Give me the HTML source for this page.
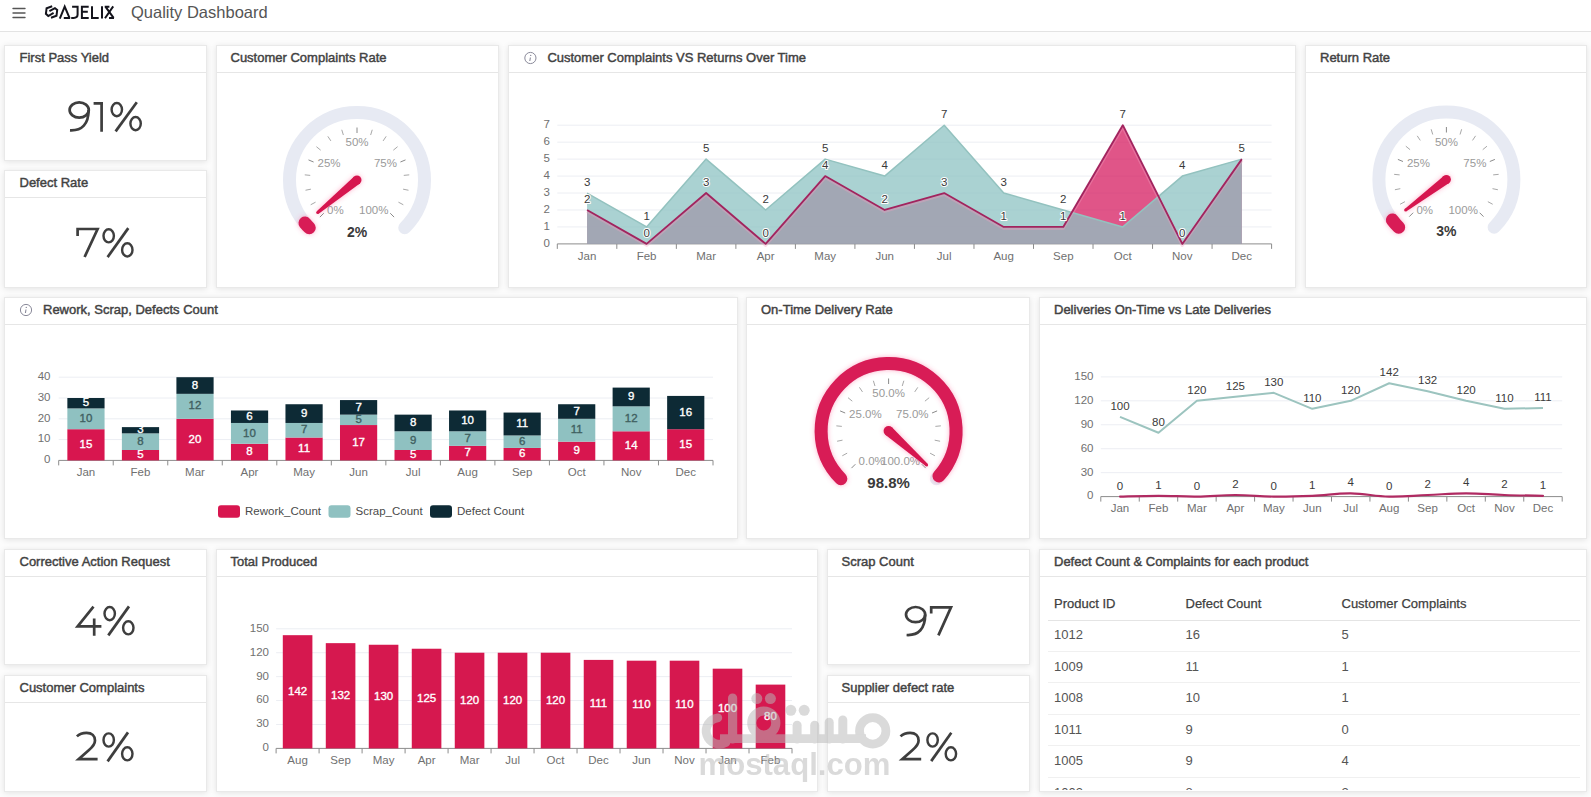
<!DOCTYPE html>
<html><head><meta charset="utf-8"><style>
html,body{margin:0;padding:0;width:1591px;height:797px;overflow:hidden;background:#fcfcfc;font-family:"Liberation Sans", sans-serif}
.hdr{position:absolute;left:0;top:0;width:1591px;height:31px;background:#fff;border-bottom:1px solid #e3e3e3}
.card{position:absolute;box-sizing:border-box;background:#fff;border:1px solid #e9e9e9;box-shadow:0 1px 6px rgba(0,0,0,0.1)}
.hsep{position:absolute;height:1px;background:#e6e6e6}
.ttl{position:absolute;font-size:13px;line-height:15px;color:#404040;white-space:nowrap;-webkit-text-stroke:0.45px #454545}
svg text{font-family:"Liberation Sans", sans-serif}
</style></head><body>
<div class="hdr"></div>
<div class="card" style="left:4px;top:45px;width:203px;height:116px"></div><div class="hsep" style="left:5px;top:72px;width:201px"></div><div class="ttl" style="left:19.5px;top:49.5px">First Pass Yield</div><div class="card" style="left:4px;top:170px;width:203px;height:118px"></div><div class="hsep" style="left:5px;top:197px;width:201px"></div><div class="ttl" style="left:19.5px;top:174.5px">Defect Rate</div><div class="card" style="left:216px;top:45px;width:282.5px;height:243px"></div><div class="hsep" style="left:217px;top:72px;width:280.5px"></div><div class="ttl" style="left:230.5px;top:49.5px">Customer Complaints Rate</div><div class="card" style="left:508px;top:45px;width:788px;height:243px"></div><div class="hsep" style="left:509px;top:72px;width:786px"></div><div class="ttl" style="left:547.4px;top:49.5px">Customer Complaints VS Returns Over Time</div><div class="card" style="left:1305px;top:45px;width:282px;height:243px"></div><div class="hsep" style="left:1306px;top:72px;width:280px"></div><div class="ttl" style="left:1320px;top:49.5px">Return Rate</div><div class="card" style="left:4px;top:297px;width:734px;height:242px"></div><div class="hsep" style="left:5px;top:324px;width:732px"></div><div class="ttl" style="left:43px;top:301.5px">Rework, Scrap, Defects Count</div><div class="card" style="left:746px;top:297px;width:284px;height:242px"></div><div class="hsep" style="left:747px;top:324px;width:282px"></div><div class="ttl" style="left:761px;top:301.5px">On-Time Delivery Rate</div><div class="card" style="left:1039px;top:297px;width:548px;height:242px"></div><div class="hsep" style="left:1040px;top:324px;width:546px"></div><div class="ttl" style="left:1054px;top:301.5px">Deliveries On-Time vs Late Deliveries</div><div class="card" style="left:4px;top:549px;width:203px;height:116px"></div><div class="hsep" style="left:5px;top:576px;width:201px"></div><div class="ttl" style="left:19.5px;top:553.5px">Corrective Action Request</div><div class="card" style="left:4px;top:675px;width:203px;height:117px"></div><div class="hsep" style="left:5px;top:702px;width:201px"></div><div class="ttl" style="left:19.5px;top:679.5px">Customer Complaints</div><div class="card" style="left:216px;top:549px;width:602px;height:243px"></div><div class="hsep" style="left:217px;top:576px;width:600px"></div><div class="ttl" style="left:230.5px;top:553.5px">Total Produced</div><div class="card" style="left:827px;top:549px;width:203px;height:116px"></div><div class="hsep" style="left:828px;top:576px;width:201px"></div><div class="ttl" style="left:841.5px;top:553.5px">Scrap Count</div><div class="card" style="left:827px;top:675px;width:203px;height:117px"></div><div class="hsep" style="left:828px;top:702px;width:201px"></div><div class="ttl" style="left:841.5px;top:679.5px">Supplier defect rate</div><div class="card" style="left:1039px;top:549px;width:548px;height:243px"></div><div class="hsep" style="left:1040px;top:576px;width:546px"></div><div class="ttl" style="left:1054px;top:553.5px">Defect Count &amp; Complaints for each product</div><div style="position:absolute;left:131px;top:3px;font-size:16.5px;line-height:19px;color:#555;white-space:nowrap">Quality Dashboard</div><div style="position:absolute;left:0;top:0;width:1591px;height:790px;overflow:hidden"><div style="position:absolute;left:1054px;top:596.2px;font-size:13px;line-height:15px;color:#404040;white-space:nowrap;-webkit-text-stroke:0.25px #404040;">Product ID</div><div style="position:absolute;left:1185.5px;top:596.2px;font-size:13px;line-height:15px;color:#404040;white-space:nowrap;-webkit-text-stroke:0.25px #404040;">Defect Count</div><div style="position:absolute;left:1341.5px;top:596.2px;font-size:13px;line-height:15px;color:#404040;white-space:nowrap;-webkit-text-stroke:0.25px #404040;">Customer Complaints</div><div class="hsep" style="left:1048px;top:620px;width:532px;background:#e4e4e4"></div><div style="position:absolute;left:1054px;top:627.2px;font-size:13px;line-height:15px;color:#555;white-space:nowrap;">1012</div><div style="position:absolute;left:1185.5px;top:627.2px;font-size:13px;line-height:15px;color:#555;white-space:nowrap;">16</div><div style="position:absolute;left:1341.5px;top:627.2px;font-size:13px;line-height:15px;color:#555;white-space:nowrap;">5</div><div class="hsep" style="left:1048px;top:650.7px;width:532px;background:#f0f0f0"></div><div style="position:absolute;left:1054px;top:658.75px;font-size:13px;line-height:15px;color:#555;white-space:nowrap;">1009</div><div style="position:absolute;left:1185.5px;top:658.75px;font-size:13px;line-height:15px;color:#555;white-space:nowrap;">11</div><div style="position:absolute;left:1341.5px;top:658.75px;font-size:13px;line-height:15px;color:#555;white-space:nowrap;">1</div><div class="hsep" style="left:1048px;top:682.2px;width:532px;background:#f0f0f0"></div><div style="position:absolute;left:1054px;top:690.3000000000001px;font-size:13px;line-height:15px;color:#555;white-space:nowrap;">1008</div><div style="position:absolute;left:1185.5px;top:690.3000000000001px;font-size:13px;line-height:15px;color:#555;white-space:nowrap;">10</div><div style="position:absolute;left:1341.5px;top:690.3000000000001px;font-size:13px;line-height:15px;color:#555;white-space:nowrap;">1</div><div class="hsep" style="left:1048px;top:713.8px;width:532px;background:#f0f0f0"></div><div style="position:absolute;left:1054px;top:721.85px;font-size:13px;line-height:15px;color:#555;white-space:nowrap;">1011</div><div style="position:absolute;left:1185.5px;top:721.85px;font-size:13px;line-height:15px;color:#555;white-space:nowrap;">9</div><div style="position:absolute;left:1341.5px;top:721.85px;font-size:13px;line-height:15px;color:#555;white-space:nowrap;">0</div><div class="hsep" style="left:1048px;top:745.4px;width:532px;background:#f0f0f0"></div><div style="position:absolute;left:1054px;top:753.4000000000001px;font-size:13px;line-height:15px;color:#555;white-space:nowrap;">1005</div><div style="position:absolute;left:1185.5px;top:753.4000000000001px;font-size:13px;line-height:15px;color:#555;white-space:nowrap;">9</div><div style="position:absolute;left:1341.5px;top:753.4000000000001px;font-size:13px;line-height:15px;color:#555;white-space:nowrap;">4</div><div class="hsep" style="left:1048px;top:776.9px;width:532px;background:#f0f0f0"></div><div style="position:absolute;left:1054px;top:784.95px;font-size:13px;line-height:15px;color:#555;white-space:nowrap;">1002</div><div style="position:absolute;left:1185.5px;top:784.95px;font-size:13px;line-height:15px;color:#555;white-space:nowrap;">8</div><div style="position:absolute;left:1341.5px;top:784.95px;font-size:13px;line-height:15px;color:#555;white-space:nowrap;">2</div></div>
<svg width="1591" height="797" style="position:absolute;left:0;top:0"><defs><filter id="glow" filterUnits="userSpaceOnUse" x="0" y="0" width="1591" height="797"><feGaussianBlur in="SourceAlpha" stdDeviation="2.5" result="b"/><feFlood flood-color="#ff4d88" flood-opacity="0.45"/><feComposite operator="in" in2="b"/><feMerge><feMergeNode/><feMergeNode in="SourceGraphic"/></feMerge></filter></defs>
<circle cx="530.4" cy="58" r="5.6" fill="none" stroke="#8a8a9a" stroke-width="1"/>
<line x1="530.4" y1="57.5" x2="529.8" y2="61" stroke="#8a8a9a" stroke-width="1.1"/>
<circle cx="530.6999999999999" cy="55.4" r="0.7" fill="#8a8a9a"/>
<circle cx="26" cy="310" r="5.6" fill="none" stroke="#8a8a9a" stroke-width="1"/>
<line x1="26" y1="309.5" x2="25.4" y2="313" stroke="#8a8a9a" stroke-width="1.1"/>
<circle cx="26.3" cy="307.4" r="0.7" fill="#8a8a9a"/>
<g stroke="#555" stroke-width="1.4" stroke-linecap="round"><line x1="13" y1="8.5" x2="25" y2="8.5"/><line x1="13" y1="13" x2="25" y2="13"/><line x1="13" y1="17.5" x2="25" y2="17.5"/></g>
<g fill="none" stroke="#14141c" stroke-width="2" stroke-linejoin="miter" stroke-miterlimit="3" stroke-linecap="butt"><path d="M52.2,6.3 L46.6,8.2 L45.9,13.8 L48.3,16 L53.6,12.9"/><path d="M51,17.7 L56.5,15.7 L57.2,10 L54.9,8.1 L49.4,11.2"/><path d="M59.8,18.6 L64.7,6.6 L69.6,18.1 M63.8,17.9 L70.2,17.9"/><path d="M72.1,6.7 L77.6,6.7 L77.6,14.6 Q77.6,17.9 73.6,17.9 L71.2,17.9"/><path d="M88.7,6.7 L81.9,6.7 L81.9,17.9 L88.7,17.9 M81.9,11.8 L87.8,11.8"/><path d="M92,6.3 L92,17.9 L98.7,17.9"/><path d="M102,6.3 L102,18.6"/><path d="M104.7,6.7 L109.4,6.7 M105.4,6.7 L113.6,17.9 M113.2,6.4 L105,18.2 M109,17.9 L114,17.9"/></g>
<ellipse cx="79.2" cy="110" rx="9.6" ry="7.6" fill="none" stroke="#3e3e3e" stroke-width="2.7"/>
<path d="M88.6,110 C88.6,124 82,131 70,130.4" fill="none" stroke="#3e3e3e" stroke-width="2.7" stroke-linecap="butt" stroke-linejoin="miter"/>
<path d="M101.6,102 L101.6,131.8 M93.6,103.4 L103,103.4" fill="none" stroke="#3e3e3e" stroke-width="2.7" stroke-linecap="butt" stroke-linejoin="miter"/>
<ellipse cx="116.8" cy="109.6" rx="5.2" ry="6.6" fill="none" stroke="#3e3e3e" stroke-width="2.43"/>
<ellipse cx="135.6" cy="123.6" rx="5.2" ry="6.6" fill="none" stroke="#3e3e3e" stroke-width="2.43"/>
<path d="M136.8,102.2 L115.6,131.4" fill="none" stroke="#3e3e3e" stroke-width="2.7" stroke-linecap="butt" stroke-linejoin="miter"/>
<path d="M77.6,236 L77.6,229 L97.6,229 L84.6,257" fill="none" stroke="#3e3e3e" stroke-width="2.7" stroke-linecap="butt" stroke-linejoin="miter"/>
<ellipse cx="108.7" cy="235.8" rx="5.2" ry="6.6" fill="none" stroke="#3e3e3e" stroke-width="2.43"/>
<ellipse cx="127.3" cy="249.9" rx="5.2" ry="6.6" fill="none" stroke="#3e3e3e" stroke-width="2.43"/>
<path d="M128.3,228.1 L107.6,257.1" fill="none" stroke="#3e3e3e" stroke-width="2.7" stroke-linecap="butt" stroke-linejoin="miter"/>
<path d="M93.5,606.6 L77.6,626.4 L101.4,626.4 M94.2,618.5 L94.2,635.7" fill="none" stroke="#3e3e3e" stroke-width="2.7" stroke-linecap="butt" stroke-linejoin="miter"/>
<ellipse cx="109.7" cy="613.6" rx="5.2" ry="6.6" fill="none" stroke="#3e3e3e" stroke-width="2.43"/>
<ellipse cx="128.3" cy="627.8" rx="5.2" ry="6.6" fill="none" stroke="#3e3e3e" stroke-width="2.43"/>
<path d="M129,606.4 L108.3,635.4" fill="none" stroke="#3e3e3e" stroke-width="2.7" stroke-linecap="butt" stroke-linejoin="miter"/>
<path d="M76.9,736.4 C80,733.4 83,732.9 86.5,732.9 C92,732.9 95,736 95,740.5 C95,744.5 92.5,747 89,750 L78.6,759.2 L97.6,759.2" fill="none" stroke="#3e3e3e" stroke-width="2.7" stroke-linecap="butt" stroke-linejoin="miter"/>
<ellipse cx="108.7" cy="740" rx="5.2" ry="6.6" fill="none" stroke="#3e3e3e" stroke-width="2.43"/>
<ellipse cx="127.3" cy="753.8" rx="5.2" ry="6.6" fill="none" stroke="#3e3e3e" stroke-width="2.43"/>
<path d="M128,732.4 L107.6,761.4" fill="none" stroke="#3e3e3e" stroke-width="2.7" stroke-linecap="butt" stroke-linejoin="miter"/>
<ellipse cx="915.6" cy="614.6" rx="9.6" ry="7.6" fill="none" stroke="#3e3e3e" stroke-width="2.7"/>
<path d="M925.2,614.6 C925.2,628.6 918.6,635.6 906.6,635" fill="none" stroke="#3e3e3e" stroke-width="2.7" stroke-linecap="butt" stroke-linejoin="miter"/>
<path d="M931.2,613.6 L931.2,607.4 L951,607.4 L938.4,635.4" fill="none" stroke="#3e3e3e" stroke-width="2.7" stroke-linecap="butt" stroke-linejoin="miter"/>
<path d="M900.5,736.4 C903.6,733.4 906.6,732.9 910.1,732.9 C915.6,732.9 918.6,736 918.6,740.5 C918.6,744.5 916.1,747 912.6,750 L902.2,759.2 L921.2,759.2" fill="none" stroke="#3e3e3e" stroke-width="2.7" stroke-linecap="butt" stroke-linejoin="miter"/>
<ellipse cx="932.6" cy="740" rx="5.2" ry="6.6" fill="none" stroke="#3e3e3e" stroke-width="2.43"/>
<ellipse cx="950.9" cy="753.8" rx="5.2" ry="6.6" fill="none" stroke="#3e3e3e" stroke-width="2.43"/>
<path d="M951.3,732.8 L931.2,761.1" fill="none" stroke="#3e3e3e" stroke-width="2.7" stroke-linecap="butt" stroke-linejoin="miter"/>
<path d="M309.27,227.73 A67.5,67.5 0 1 1 404.73,227.73" fill="none" stroke="#e7eaf3" stroke-width="13" stroke-linecap="round"/>
<path d="M309.27,227.73 A67.5,67.5 0 0 1 304.99,223.03" fill="none" stroke="#d81a56" stroke-width="13" stroke-linecap="round" filter="url(#glow)"/>
<line x1="323.77" y1="213.23" x2="319.88" y2="217.12" stroke="#8a8a8a" stroke-width="1"/>
<line x1="315.55" y1="202.16" x2="310.70" y2="204.75" stroke="#a8a8a8" stroke-width="1"/>
<line x1="310.90" y1="189.17" x2="305.51" y2="190.24" stroke="#a8a8a8" stroke-width="1"/>
<line x1="310.23" y1="175.39" x2="304.75" y2="174.85" stroke="#a8a8a8" stroke-width="1"/>
<line x1="313.58" y1="162.01" x2="308.50" y2="159.91" stroke="#8a8a8a" stroke-width="1"/>
<line x1="320.67" y1="150.18" x2="316.42" y2="146.69" stroke="#a8a8a8" stroke-width="1"/>
<line x1="330.89" y1="140.92" x2="327.83" y2="136.35" stroke="#a8a8a8" stroke-width="1"/>
<line x1="343.36" y1="135.02" x2="341.76" y2="129.76" stroke="#a8a8a8" stroke-width="1"/>
<line x1="357.00" y1="133.00" x2="357.00" y2="127.50" stroke="#8a8a8a" stroke-width="1"/>
<line x1="370.64" y1="135.02" x2="372.24" y2="129.76" stroke="#a8a8a8" stroke-width="1"/>
<line x1="383.11" y1="140.92" x2="386.17" y2="136.35" stroke="#a8a8a8" stroke-width="1"/>
<line x1="393.33" y1="150.18" x2="397.58" y2="146.69" stroke="#a8a8a8" stroke-width="1"/>
<line x1="400.42" y1="162.01" x2="405.50" y2="159.91" stroke="#8a8a8a" stroke-width="1"/>
<line x1="403.77" y1="175.39" x2="409.25" y2="174.85" stroke="#a8a8a8" stroke-width="1"/>
<line x1="403.10" y1="189.17" x2="408.49" y2="190.24" stroke="#a8a8a8" stroke-width="1"/>
<line x1="398.45" y1="202.16" x2="403.30" y2="204.75" stroke="#a8a8a8" stroke-width="1"/>
<line x1="390.23" y1="213.23" x2="394.12" y2="217.12" stroke="#8a8a8a" stroke-width="1"/>
<text x="327.0" y="214.1" font-size="11.5" fill="#9a9a9a" text-anchor="start" font-weight="normal" >0%</text>
<text x="317.5" y="167.1" font-size="11.5" fill="#9a9a9a" text-anchor="start" font-weight="normal" >25%</text>
<text x="357.0" y="146.1" font-size="11.5" fill="#9a9a9a" text-anchor="middle" font-weight="normal" >50%</text>
<text x="397.0" y="167.1" font-size="11.5" fill="#9a9a9a" text-anchor="end" font-weight="normal" >75%</text>
<text x="388.5" y="214.1" font-size="11.5" fill="#9a9a9a" text-anchor="end" font-weight="normal" >100%</text>
<g filter="url(#glow)" fill="#d6144f"><path d="M354.13,176.53 L316.75,211.35 L318.66,213.66 L359.87,183.47 Z"/><circle cx="357" cy="180" r="4.5"/><circle cx="317.70" cy="212.51" r="1.5"/></g>
<text x="357.0" y="236.5" font-size="14" fill="#3a3a3a" text-anchor="middle" font-weight="bold" >2%</text>
<path d="M1398.67,227.23 A67.5,67.5 0 1 1 1494.13,227.23" fill="none" stroke="#e7eaf3" stroke-width="13" stroke-linecap="round"/>
<path d="M1398.67,227.23 A67.5,67.5 0 0 1 1392.42,220.03" fill="none" stroke="#d81a56" stroke-width="13" stroke-linecap="round" filter="url(#glow)"/>
<line x1="1413.17" y1="212.73" x2="1409.28" y2="216.62" stroke="#8a8a8a" stroke-width="1"/>
<line x1="1404.95" y1="201.66" x2="1400.10" y2="204.25" stroke="#a8a8a8" stroke-width="1"/>
<line x1="1400.30" y1="188.67" x2="1394.91" y2="189.74" stroke="#a8a8a8" stroke-width="1"/>
<line x1="1399.63" y1="174.89" x2="1394.15" y2="174.35" stroke="#a8a8a8" stroke-width="1"/>
<line x1="1402.98" y1="161.51" x2="1397.90" y2="159.41" stroke="#8a8a8a" stroke-width="1"/>
<line x1="1410.07" y1="149.68" x2="1405.82" y2="146.19" stroke="#a8a8a8" stroke-width="1"/>
<line x1="1420.29" y1="140.42" x2="1417.23" y2="135.85" stroke="#a8a8a8" stroke-width="1"/>
<line x1="1432.76" y1="134.52" x2="1431.16" y2="129.26" stroke="#a8a8a8" stroke-width="1"/>
<line x1="1446.40" y1="132.50" x2="1446.40" y2="127.00" stroke="#8a8a8a" stroke-width="1"/>
<line x1="1460.04" y1="134.52" x2="1461.64" y2="129.26" stroke="#a8a8a8" stroke-width="1"/>
<line x1="1472.51" y1="140.42" x2="1475.57" y2="135.85" stroke="#a8a8a8" stroke-width="1"/>
<line x1="1482.73" y1="149.68" x2="1486.98" y2="146.19" stroke="#a8a8a8" stroke-width="1"/>
<line x1="1489.82" y1="161.51" x2="1494.90" y2="159.41" stroke="#8a8a8a" stroke-width="1"/>
<line x1="1493.17" y1="174.89" x2="1498.65" y2="174.35" stroke="#a8a8a8" stroke-width="1"/>
<line x1="1492.50" y1="188.67" x2="1497.89" y2="189.74" stroke="#a8a8a8" stroke-width="1"/>
<line x1="1487.85" y1="201.66" x2="1492.70" y2="204.25" stroke="#a8a8a8" stroke-width="1"/>
<line x1="1479.63" y1="212.73" x2="1483.52" y2="216.62" stroke="#8a8a8a" stroke-width="1"/>
<text x="1416.4" y="213.6" font-size="11.5" fill="#9a9a9a" text-anchor="start" font-weight="normal" >0%</text>
<text x="1406.9" y="166.6" font-size="11.5" fill="#9a9a9a" text-anchor="start" font-weight="normal" >25%</text>
<text x="1446.4" y="145.6" font-size="11.5" fill="#9a9a9a" text-anchor="middle" font-weight="normal" >50%</text>
<text x="1486.4" y="166.6" font-size="11.5" fill="#9a9a9a" text-anchor="end" font-weight="normal" >75%</text>
<text x="1477.9" y="213.6" font-size="11.5" fill="#9a9a9a" text-anchor="end" font-weight="normal" >100%</text>
<g filter="url(#glow)" fill="#d6144f"><path d="M1443.70,175.90 L1404.72,208.92 L1406.52,211.32 L1449.10,183.10 Z"/><circle cx="1446.4" cy="179.5" r="4.5"/><circle cx="1405.62" cy="210.12" r="1.5"/></g>
<text x="1446.4" y="236.0" font-size="14" fill="#3a3a3a" text-anchor="middle" font-weight="bold" >3%</text>
<path d="M840.87,478.73 A67.5,67.5 0 1 1 936.33,478.73" fill="none" stroke="#e7eaf3" stroke-width="13" stroke-linecap="round"/>
<path d="M840.87,478.73 A67.5,67.5 0 1 1 938.95,475.96" fill="none" stroke="#d81a56" stroke-width="13" stroke-linecap="round" filter="url(#glow)"/>
<line x1="855.37" y1="464.23" x2="851.48" y2="468.12" stroke="#8a8a8a" stroke-width="1"/>
<line x1="847.15" y1="453.16" x2="842.30" y2="455.75" stroke="#a8a8a8" stroke-width="1"/>
<line x1="842.50" y1="440.17" x2="837.11" y2="441.24" stroke="#a8a8a8" stroke-width="1"/>
<line x1="841.83" y1="426.39" x2="836.35" y2="425.85" stroke="#a8a8a8" stroke-width="1"/>
<line x1="845.18" y1="413.01" x2="840.10" y2="410.91" stroke="#8a8a8a" stroke-width="1"/>
<line x1="852.27" y1="401.18" x2="848.02" y2="397.69" stroke="#a8a8a8" stroke-width="1"/>
<line x1="862.49" y1="391.92" x2="859.43" y2="387.35" stroke="#a8a8a8" stroke-width="1"/>
<line x1="874.96" y1="386.02" x2="873.36" y2="380.76" stroke="#a8a8a8" stroke-width="1"/>
<line x1="888.60" y1="384.00" x2="888.60" y2="378.50" stroke="#8a8a8a" stroke-width="1"/>
<line x1="902.24" y1="386.02" x2="903.84" y2="380.76" stroke="#a8a8a8" stroke-width="1"/>
<line x1="914.71" y1="391.92" x2="917.77" y2="387.35" stroke="#a8a8a8" stroke-width="1"/>
<line x1="924.93" y1="401.18" x2="929.18" y2="397.69" stroke="#a8a8a8" stroke-width="1"/>
<line x1="932.02" y1="413.01" x2="937.10" y2="410.91" stroke="#8a8a8a" stroke-width="1"/>
<line x1="935.37" y1="426.39" x2="940.85" y2="425.85" stroke="#a8a8a8" stroke-width="1"/>
<line x1="934.70" y1="440.17" x2="940.09" y2="441.24" stroke="#a8a8a8" stroke-width="1"/>
<line x1="930.05" y1="453.16" x2="934.90" y2="455.75" stroke="#a8a8a8" stroke-width="1"/>
<line x1="921.83" y1="464.23" x2="925.72" y2="468.12" stroke="#8a8a8a" stroke-width="1"/>
<text x="858.6" y="465.1" font-size="11.5" fill="#9a9a9a" text-anchor="start" font-weight="normal" >0.0%</text>
<text x="849.1" y="418.1" font-size="11.5" fill="#9a9a9a" text-anchor="start" font-weight="normal" >25.0%</text>
<text x="888.6" y="397.1" font-size="11.5" fill="#9a9a9a" text-anchor="middle" font-weight="normal" >50.0%</text>
<text x="928.6" y="418.1" font-size="11.5" fill="#9a9a9a" text-anchor="end" font-weight="normal" >75.0%</text>
<text x="920.1" y="465.1" font-size="11.5" fill="#9a9a9a" text-anchor="end" font-weight="normal" >100.0%</text>
<g filter="url(#glow)" fill="#d6144f"><path d="M885.27,434.73 L925.64,466.09 L927.64,463.85 L891.93,427.27 Z"/><circle cx="888.6" cy="431" r="5"/><circle cx="926.64" cy="464.97" r="1.5"/></g>
<text x="888.6" y="487.9" font-size="15" fill="#3a3a3a" text-anchor="middle" font-weight="bold" >98.8%</text>
<text x="550.0" y="246.7" font-size="11.5" fill="#707070" text-anchor="end" font-weight="normal" >0</text>
<line x1="557.3" y1="226.94" x2="1271.6" y2="226.94" stroke="#eceef3" stroke-width="1"/>
<text x="550.0" y="229.8" font-size="11.5" fill="#707070" text-anchor="end" font-weight="normal" >1</text>
<line x1="557.3" y1="209.99" x2="1271.6" y2="209.99" stroke="#eceef3" stroke-width="1"/>
<text x="550.0" y="212.8" font-size="11.5" fill="#707070" text-anchor="end" font-weight="normal" >2</text>
<line x1="557.3" y1="193.03" x2="1271.6" y2="193.03" stroke="#eceef3" stroke-width="1"/>
<text x="550.0" y="195.8" font-size="11.5" fill="#707070" text-anchor="end" font-weight="normal" >3</text>
<line x1="557.3" y1="176.07" x2="1271.6" y2="176.07" stroke="#eceef3" stroke-width="1"/>
<text x="550.0" y="178.9" font-size="11.5" fill="#707070" text-anchor="end" font-weight="normal" >4</text>
<line x1="557.3" y1="159.11" x2="1271.6" y2="159.11" stroke="#eceef3" stroke-width="1"/>
<text x="550.0" y="161.9" font-size="11.5" fill="#707070" text-anchor="end" font-weight="normal" >5</text>
<line x1="557.3" y1="142.16" x2="1271.6" y2="142.16" stroke="#eceef3" stroke-width="1"/>
<text x="550.0" y="145.0" font-size="11.5" fill="#707070" text-anchor="end" font-weight="normal" >6</text>
<line x1="557.3" y1="125.20" x2="1271.6" y2="125.20" stroke="#eceef3" stroke-width="1"/>
<text x="550.0" y="128.0" font-size="11.5" fill="#707070" text-anchor="end" font-weight="normal" >7</text>
<line x1="557.3" y1="243.9" x2="1271.6" y2="243.9" stroke="#8c8c8c" stroke-width="1"/>
<line x1="557.30" y1="243.9" x2="557.30" y2="248.9" stroke="#8c8c8c" stroke-width="1"/>
<line x1="616.82" y1="243.9" x2="616.82" y2="248.9" stroke="#8c8c8c" stroke-width="1"/>
<line x1="676.35" y1="243.9" x2="676.35" y2="248.9" stroke="#8c8c8c" stroke-width="1"/>
<line x1="735.88" y1="243.9" x2="735.88" y2="248.9" stroke="#8c8c8c" stroke-width="1"/>
<line x1="795.40" y1="243.9" x2="795.40" y2="248.9" stroke="#8c8c8c" stroke-width="1"/>
<line x1="854.92" y1="243.9" x2="854.92" y2="248.9" stroke="#8c8c8c" stroke-width="1"/>
<line x1="914.45" y1="243.9" x2="914.45" y2="248.9" stroke="#8c8c8c" stroke-width="1"/>
<line x1="973.97" y1="243.9" x2="973.97" y2="248.9" stroke="#8c8c8c" stroke-width="1"/>
<line x1="1033.50" y1="243.9" x2="1033.50" y2="248.9" stroke="#8c8c8c" stroke-width="1"/>
<line x1="1093.03" y1="243.9" x2="1093.03" y2="248.9" stroke="#8c8c8c" stroke-width="1"/>
<line x1="1152.55" y1="243.9" x2="1152.55" y2="248.9" stroke="#8c8c8c" stroke-width="1"/>
<line x1="1212.07" y1="243.9" x2="1212.07" y2="248.9" stroke="#8c8c8c" stroke-width="1"/>
<line x1="1271.60" y1="243.9" x2="1271.60" y2="248.9" stroke="#8c8c8c" stroke-width="1"/>
<text x="587.1" y="260.1" font-size="11.5" fill="#707070" text-anchor="middle" font-weight="normal" >Jan</text>
<text x="646.6" y="260.1" font-size="11.5" fill="#707070" text-anchor="middle" font-weight="normal" >Feb</text>
<text x="706.1" y="260.1" font-size="11.5" fill="#707070" text-anchor="middle" font-weight="normal" >Mar</text>
<text x="765.6" y="260.1" font-size="11.5" fill="#707070" text-anchor="middle" font-weight="normal" >Apr</text>
<text x="825.2" y="260.1" font-size="11.5" fill="#707070" text-anchor="middle" font-weight="normal" >May</text>
<text x="884.7" y="260.1" font-size="11.5" fill="#707070" text-anchor="middle" font-weight="normal" >Jun</text>
<text x="944.2" y="260.1" font-size="11.5" fill="#707070" text-anchor="middle" font-weight="normal" >Jul</text>
<text x="1003.7" y="260.1" font-size="11.5" fill="#707070" text-anchor="middle" font-weight="normal" >Aug</text>
<text x="1063.3" y="260.1" font-size="11.5" fill="#707070" text-anchor="middle" font-weight="normal" >Sep</text>
<text x="1122.8" y="260.1" font-size="11.5" fill="#707070" text-anchor="middle" font-weight="normal" >Oct</text>
<text x="1182.3" y="260.1" font-size="11.5" fill="#707070" text-anchor="middle" font-weight="normal" >Nov</text>
<text x="1241.8" y="260.1" font-size="11.5" fill="#707070" text-anchor="middle" font-weight="normal" >Dec</text>
<path d="M587.06,243.9 L587.06,209.99 L646.59,243.90 L706.11,193.03 L765.64,243.90 L825.16,176.07 L884.69,209.99 L944.21,193.03 L1003.74,226.94 L1063.26,226.94 L1122.79,125.20 L1182.31,243.90 L1241.84,159.11 L1241.84,243.9 Z" fill="#d4145a" fill-opacity="0.72"/>
<path d="M587.06,243.9 L587.06,193.03 L646.59,226.94 L706.11,159.11 L765.64,209.99 L825.16,159.11 L884.69,176.07 L944.21,125.20 L1003.74,193.03 L1063.26,209.99 L1122.79,226.94 L1182.31,176.07 L1241.84,159.11 L1241.84,243.9 Z" fill="#8ec3c3" fill-opacity="0.75"/>
<path d="M587.06,193.03 L646.59,226.94 L706.11,159.11 L765.64,209.99 L825.16,159.11 L884.69,176.07 L944.21,125.20 L1003.74,193.03 L1063.26,209.99 L1122.79,226.94 L1182.31,176.07 L1241.84,159.11" fill="none" stroke="#93c2bf" stroke-width="1.5" stroke-linejoin="round"/>
<path d="M587.06,209.99 L646.59,243.90 L706.11,193.03 L765.64,243.90 L825.16,176.07 L884.69,209.99 L944.21,193.03 L1003.74,226.94 L1063.26,226.94 L1122.79,125.20 L1182.31,243.90 L1241.84,159.11" fill="none" stroke="#f0a0c0" stroke-width="3.5" stroke-opacity="0.35" stroke-linejoin="round" transform="translate(0,1.2)"/>
<path d="M587.06,209.99 L646.59,243.90 L706.11,193.03 L765.64,243.90 L825.16,176.07 L884.69,209.99 L944.21,193.03 L1003.74,226.94 L1063.26,226.94 L1122.79,125.20 L1182.31,243.90 L1241.84,159.11" fill="none" stroke="#a1245e" stroke-width="1.8" stroke-linejoin="round"/>
<text x="587.1" y="186.0" font-size="11.5" fill="#3a3a3a" text-anchor="middle" stroke="#fff" stroke-width="2" paint-order="stroke" stroke-linejoin="round">3</text>
<text x="646.6" y="219.9" font-size="11.5" fill="#3a3a3a" text-anchor="middle" stroke="#fff" stroke-width="2" paint-order="stroke" stroke-linejoin="round">1</text>
<text x="706.1" y="152.1" font-size="11.5" fill="#3a3a3a" text-anchor="middle" stroke="#fff" stroke-width="2" paint-order="stroke" stroke-linejoin="round">5</text>
<text x="765.6" y="203.0" font-size="11.5" fill="#3a3a3a" text-anchor="middle" stroke="#fff" stroke-width="2" paint-order="stroke" stroke-linejoin="round">2</text>
<text x="825.2" y="152.1" font-size="11.5" fill="#3a3a3a" text-anchor="middle" stroke="#fff" stroke-width="2" paint-order="stroke" stroke-linejoin="round">5</text>
<text x="884.7" y="169.1" font-size="11.5" fill="#3a3a3a" text-anchor="middle" stroke="#fff" stroke-width="2" paint-order="stroke" stroke-linejoin="round">4</text>
<text x="944.2" y="118.2" font-size="11.5" fill="#3a3a3a" text-anchor="middle" stroke="#fff" stroke-width="2" paint-order="stroke" stroke-linejoin="round">7</text>
<text x="1003.7" y="186.0" font-size="11.5" fill="#3a3a3a" text-anchor="middle" stroke="#fff" stroke-width="2" paint-order="stroke" stroke-linejoin="round">3</text>
<text x="1063.3" y="203.0" font-size="11.5" fill="#3a3a3a" text-anchor="middle" stroke="#fff" stroke-width="2" paint-order="stroke" stroke-linejoin="round">2</text>
<text x="1122.8" y="219.9" font-size="11.5" fill="#3a3a3a" text-anchor="middle" stroke="#fff" stroke-width="2" paint-order="stroke" stroke-linejoin="round">1</text>
<text x="1182.3" y="169.1" font-size="11.5" fill="#3a3a3a" text-anchor="middle" stroke="#fff" stroke-width="2" paint-order="stroke" stroke-linejoin="round">4</text>
<text x="1241.8" y="152.1" font-size="11.5" fill="#3a3a3a" text-anchor="middle" stroke="#fff" stroke-width="2" paint-order="stroke" stroke-linejoin="round">5</text>
<text x="587.1" y="203.0" font-size="11.5" fill="#3a3a3a" text-anchor="middle" stroke="#fff" stroke-width="2" paint-order="stroke" stroke-linejoin="round">2</text>
<text x="646.6" y="236.9" font-size="11.5" fill="#3a3a3a" text-anchor="middle" stroke="#fff" stroke-width="2" paint-order="stroke" stroke-linejoin="round">0</text>
<text x="706.1" y="186.0" font-size="11.5" fill="#3a3a3a" text-anchor="middle" stroke="#fff" stroke-width="2" paint-order="stroke" stroke-linejoin="round">3</text>
<text x="765.6" y="236.9" font-size="11.5" fill="#3a3a3a" text-anchor="middle" stroke="#fff" stroke-width="2" paint-order="stroke" stroke-linejoin="round">0</text>
<text x="825.2" y="169.1" font-size="11.5" fill="#3a3a3a" text-anchor="middle" stroke="#fff" stroke-width="2" paint-order="stroke" stroke-linejoin="round">4</text>
<text x="884.7" y="203.0" font-size="11.5" fill="#3a3a3a" text-anchor="middle" stroke="#fff" stroke-width="2" paint-order="stroke" stroke-linejoin="round">2</text>
<text x="944.2" y="186.0" font-size="11.5" fill="#3a3a3a" text-anchor="middle" stroke="#fff" stroke-width="2" paint-order="stroke" stroke-linejoin="round">3</text>
<text x="1003.7" y="219.9" font-size="11.5" fill="#3a3a3a" text-anchor="middle" stroke="#fff" stroke-width="2" paint-order="stroke" stroke-linejoin="round">1</text>
<text x="1063.3" y="219.9" font-size="11.5" fill="#3a3a3a" text-anchor="middle" stroke="#fff" stroke-width="2" paint-order="stroke" stroke-linejoin="round">1</text>
<text x="1122.8" y="118.2" font-size="11.5" fill="#3a3a3a" text-anchor="middle" stroke="#fff" stroke-width="2" paint-order="stroke" stroke-linejoin="round">7</text>
<text x="1182.3" y="236.9" font-size="11.5" fill="#3a3a3a" text-anchor="middle" stroke="#fff" stroke-width="2" paint-order="stroke" stroke-linejoin="round">0</text>
<text x="1241.8" y="152.1" font-size="11.5" fill="#3a3a3a" text-anchor="middle" stroke="#fff" stroke-width="2" paint-order="stroke" stroke-linejoin="round">5</text>
<text x="50.5" y="463.2" font-size="11.5" fill="#707070" text-anchor="end" font-weight="normal" >0</text>
<line x1="58.7" y1="439.60" x2="713" y2="439.60" stroke="#eceef3" stroke-width="1"/>
<text x="50.5" y="442.4" font-size="11.5" fill="#707070" text-anchor="end" font-weight="normal" >10</text>
<line x1="58.7" y1="418.80" x2="713" y2="418.80" stroke="#eceef3" stroke-width="1"/>
<text x="50.5" y="421.6" font-size="11.5" fill="#707070" text-anchor="end" font-weight="normal" >20</text>
<line x1="58.7" y1="398.00" x2="713" y2="398.00" stroke="#eceef3" stroke-width="1"/>
<text x="50.5" y="400.8" font-size="11.5" fill="#707070" text-anchor="end" font-weight="normal" >30</text>
<line x1="58.7" y1="377.20" x2="713" y2="377.20" stroke="#eceef3" stroke-width="1"/>
<text x="50.5" y="380.0" font-size="11.5" fill="#707070" text-anchor="end" font-weight="normal" >40</text>
<line x1="58.7" y1="460.4" x2="713" y2="460.4" stroke="#8c8c8c" stroke-width="1"/>
<line x1="58.70" y1="460.4" x2="58.70" y2="465.4" stroke="#8c8c8c" stroke-width="1"/>
<line x1="113.22" y1="460.4" x2="113.22" y2="465.4" stroke="#8c8c8c" stroke-width="1"/>
<line x1="167.75" y1="460.4" x2="167.75" y2="465.4" stroke="#8c8c8c" stroke-width="1"/>
<line x1="222.27" y1="460.4" x2="222.27" y2="465.4" stroke="#8c8c8c" stroke-width="1"/>
<line x1="276.80" y1="460.4" x2="276.80" y2="465.4" stroke="#8c8c8c" stroke-width="1"/>
<line x1="331.32" y1="460.4" x2="331.32" y2="465.4" stroke="#8c8c8c" stroke-width="1"/>
<line x1="385.85" y1="460.4" x2="385.85" y2="465.4" stroke="#8c8c8c" stroke-width="1"/>
<line x1="440.38" y1="460.4" x2="440.38" y2="465.4" stroke="#8c8c8c" stroke-width="1"/>
<line x1="494.90" y1="460.4" x2="494.90" y2="465.4" stroke="#8c8c8c" stroke-width="1"/>
<line x1="549.42" y1="460.4" x2="549.42" y2="465.4" stroke="#8c8c8c" stroke-width="1"/>
<line x1="603.95" y1="460.4" x2="603.95" y2="465.4" stroke="#8c8c8c" stroke-width="1"/>
<line x1="658.48" y1="460.4" x2="658.48" y2="465.4" stroke="#8c8c8c" stroke-width="1"/>
<line x1="713.00" y1="460.4" x2="713.00" y2="465.4" stroke="#8c8c8c" stroke-width="1"/>
<text x="86.0" y="475.5" font-size="11.5" fill="#707070" text-anchor="middle" font-weight="normal" >Jan</text>
<text x="140.5" y="475.5" font-size="11.5" fill="#707070" text-anchor="middle" font-weight="normal" >Feb</text>
<text x="195.0" y="475.5" font-size="11.5" fill="#707070" text-anchor="middle" font-weight="normal" >Mar</text>
<text x="249.5" y="475.5" font-size="11.5" fill="#707070" text-anchor="middle" font-weight="normal" >Apr</text>
<text x="304.1" y="475.5" font-size="11.5" fill="#707070" text-anchor="middle" font-weight="normal" >May</text>
<text x="358.6" y="475.5" font-size="11.5" fill="#707070" text-anchor="middle" font-weight="normal" >Jun</text>
<text x="413.1" y="475.5" font-size="11.5" fill="#707070" text-anchor="middle" font-weight="normal" >Jul</text>
<text x="467.6" y="475.5" font-size="11.5" fill="#707070" text-anchor="middle" font-weight="normal" >Aug</text>
<text x="522.2" y="475.5" font-size="11.5" fill="#707070" text-anchor="middle" font-weight="normal" >Sep</text>
<text x="576.7" y="475.5" font-size="11.5" fill="#707070" text-anchor="middle" font-weight="normal" >Oct</text>
<text x="631.2" y="475.5" font-size="11.5" fill="#707070" text-anchor="middle" font-weight="normal" >Nov</text>
<text x="685.7" y="475.5" font-size="11.5" fill="#707070" text-anchor="middle" font-weight="normal" >Dec</text>
<rect x="67.36" y="429.20" width="37.2" height="31.20" fill="#d8164f"/>
<text x="86.0" y="447.9" font-size="11.5" fill="#ffffff" text-anchor="middle" font-weight="normal" stroke="#ffffff" stroke-width="0.35">15</text>
<rect x="67.36" y="408.40" width="37.2" height="20.80" fill="#8fc1c1"/>
<text x="86.0" y="421.9" font-size="11.5" fill="#3f6060" text-anchor="middle" font-weight="normal" stroke="#3f6060" stroke-width="0.35">10</text>
<rect x="67.36" y="398.00" width="37.2" height="10.40" fill="#0d2a35"/>
<text x="86.0" y="406.3" font-size="11.5" fill="#ffffff" text-anchor="middle" font-weight="normal" stroke="#ffffff" stroke-width="0.35">5</text>
<rect x="121.89" y="450.00" width="37.2" height="10.40" fill="#d8164f"/>
<text x="140.5" y="458.3" font-size="11.5" fill="#ffffff" text-anchor="middle" font-weight="normal" stroke="#ffffff" stroke-width="0.35">5</text>
<rect x="121.89" y="433.36" width="37.2" height="16.64" fill="#8fc1c1"/>
<text x="140.5" y="444.8" font-size="11.5" fill="#3f6060" text-anchor="middle" font-weight="normal" stroke="#3f6060" stroke-width="0.35">8</text>
<rect x="121.89" y="427.12" width="37.2" height="6.24" fill="#0d2a35"/>
<text x="140.5" y="433.4" font-size="11.5" fill="#ffffff" text-anchor="middle" font-weight="normal" stroke="#ffffff" stroke-width="0.35">3</text>
<rect x="176.41" y="418.80" width="37.2" height="41.60" fill="#d8164f"/>
<text x="195.0" y="442.7" font-size="11.5" fill="#ffffff" text-anchor="middle" font-weight="normal" stroke="#ffffff" stroke-width="0.35">20</text>
<rect x="176.41" y="393.84" width="37.2" height="24.96" fill="#8fc1c1"/>
<text x="195.0" y="409.4" font-size="11.5" fill="#3f6060" text-anchor="middle" font-weight="normal" stroke="#3f6060" stroke-width="0.35">12</text>
<rect x="176.41" y="377.20" width="37.2" height="16.64" fill="#0d2a35"/>
<text x="195.0" y="388.6" font-size="11.5" fill="#ffffff" text-anchor="middle" font-weight="normal" stroke="#ffffff" stroke-width="0.35">8</text>
<rect x="230.94" y="443.76" width="37.2" height="16.64" fill="#d8164f"/>
<text x="249.5" y="455.2" font-size="11.5" fill="#ffffff" text-anchor="middle" font-weight="normal" stroke="#ffffff" stroke-width="0.35">8</text>
<rect x="230.94" y="422.96" width="37.2" height="20.80" fill="#8fc1c1"/>
<text x="249.5" y="436.5" font-size="11.5" fill="#3f6060" text-anchor="middle" font-weight="normal" stroke="#3f6060" stroke-width="0.35">10</text>
<rect x="230.94" y="410.48" width="37.2" height="12.48" fill="#0d2a35"/>
<text x="249.5" y="419.8" font-size="11.5" fill="#ffffff" text-anchor="middle" font-weight="normal" stroke="#ffffff" stroke-width="0.35">6</text>
<rect x="285.46" y="437.52" width="37.2" height="22.88" fill="#d8164f"/>
<text x="304.1" y="452.1" font-size="11.5" fill="#ffffff" text-anchor="middle" font-weight="normal" stroke="#ffffff" stroke-width="0.35">11</text>
<rect x="285.46" y="422.96" width="37.2" height="14.56" fill="#8fc1c1"/>
<text x="304.1" y="433.4" font-size="11.5" fill="#3f6060" text-anchor="middle" font-weight="normal" stroke="#3f6060" stroke-width="0.35">7</text>
<rect x="285.46" y="404.24" width="37.2" height="18.72" fill="#0d2a35"/>
<text x="304.1" y="416.7" font-size="11.5" fill="#ffffff" text-anchor="middle" font-weight="normal" stroke="#ffffff" stroke-width="0.35">9</text>
<rect x="339.99" y="425.04" width="37.2" height="35.36" fill="#d8164f"/>
<text x="358.6" y="445.8" font-size="11.5" fill="#ffffff" text-anchor="middle" font-weight="normal" stroke="#ffffff" stroke-width="0.35">17</text>
<rect x="339.99" y="414.64" width="37.2" height="10.40" fill="#8fc1c1"/>
<text x="358.6" y="423.0" font-size="11.5" fill="#3f6060" text-anchor="middle" font-weight="normal" stroke="#3f6060" stroke-width="0.35">5</text>
<rect x="339.99" y="400.08" width="37.2" height="14.56" fill="#0d2a35"/>
<text x="358.6" y="410.5" font-size="11.5" fill="#ffffff" text-anchor="middle" font-weight="normal" stroke="#ffffff" stroke-width="0.35">7</text>
<rect x="394.51" y="450.00" width="37.2" height="10.40" fill="#d8164f"/>
<text x="413.1" y="458.3" font-size="11.5" fill="#ffffff" text-anchor="middle" font-weight="normal" stroke="#ffffff" stroke-width="0.35">5</text>
<rect x="394.51" y="431.28" width="37.2" height="18.72" fill="#8fc1c1"/>
<text x="413.1" y="443.8" font-size="11.5" fill="#3f6060" text-anchor="middle" font-weight="normal" stroke="#3f6060" stroke-width="0.35">9</text>
<rect x="394.51" y="414.64" width="37.2" height="16.64" fill="#0d2a35"/>
<text x="413.1" y="426.1" font-size="11.5" fill="#ffffff" text-anchor="middle" font-weight="normal" stroke="#ffffff" stroke-width="0.35">8</text>
<rect x="449.04" y="445.84" width="37.2" height="14.56" fill="#d8164f"/>
<text x="467.6" y="456.2" font-size="11.5" fill="#ffffff" text-anchor="middle" font-weight="normal" stroke="#ffffff" stroke-width="0.35">7</text>
<rect x="449.04" y="431.28" width="37.2" height="14.56" fill="#8fc1c1"/>
<text x="467.6" y="441.7" font-size="11.5" fill="#3f6060" text-anchor="middle" font-weight="normal" stroke="#3f6060" stroke-width="0.35">7</text>
<rect x="449.04" y="410.48" width="37.2" height="20.80" fill="#0d2a35"/>
<text x="467.6" y="424.0" font-size="11.5" fill="#ffffff" text-anchor="middle" font-weight="normal" stroke="#ffffff" stroke-width="0.35">10</text>
<rect x="503.56" y="447.92" width="37.2" height="12.48" fill="#d8164f"/>
<text x="522.2" y="457.3" font-size="11.5" fill="#ffffff" text-anchor="middle" font-weight="normal" stroke="#ffffff" stroke-width="0.35">6</text>
<rect x="503.56" y="435.44" width="37.2" height="12.48" fill="#8fc1c1"/>
<text x="522.2" y="444.8" font-size="11.5" fill="#3f6060" text-anchor="middle" font-weight="normal" stroke="#3f6060" stroke-width="0.35">6</text>
<rect x="503.56" y="412.56" width="37.2" height="22.88" fill="#0d2a35"/>
<text x="522.2" y="427.1" font-size="11.5" fill="#ffffff" text-anchor="middle" font-weight="normal" stroke="#ffffff" stroke-width="0.35">11</text>
<rect x="558.09" y="441.68" width="37.2" height="18.72" fill="#d8164f"/>
<text x="576.7" y="454.2" font-size="11.5" fill="#ffffff" text-anchor="middle" font-weight="normal" stroke="#ffffff" stroke-width="0.35">9</text>
<rect x="558.09" y="418.80" width="37.2" height="22.88" fill="#8fc1c1"/>
<text x="576.7" y="433.4" font-size="11.5" fill="#3f6060" text-anchor="middle" font-weight="normal" stroke="#3f6060" stroke-width="0.35">11</text>
<rect x="558.09" y="404.24" width="37.2" height="14.56" fill="#0d2a35"/>
<text x="576.7" y="414.6" font-size="11.5" fill="#ffffff" text-anchor="middle" font-weight="normal" stroke="#ffffff" stroke-width="0.35">7</text>
<rect x="612.61" y="431.28" width="37.2" height="29.12" fill="#d8164f"/>
<text x="631.2" y="449.0" font-size="11.5" fill="#ffffff" text-anchor="middle" font-weight="normal" stroke="#ffffff" stroke-width="0.35">14</text>
<rect x="612.61" y="406.32" width="37.2" height="24.96" fill="#8fc1c1"/>
<text x="631.2" y="421.9" font-size="11.5" fill="#3f6060" text-anchor="middle" font-weight="normal" stroke="#3f6060" stroke-width="0.35">12</text>
<rect x="612.61" y="387.60" width="37.2" height="18.72" fill="#0d2a35"/>
<text x="631.2" y="400.1" font-size="11.5" fill="#ffffff" text-anchor="middle" font-weight="normal" stroke="#ffffff" stroke-width="0.35">9</text>
<rect x="667.14" y="429.20" width="37.2" height="31.20" fill="#d8164f"/>
<text x="685.7" y="447.9" font-size="11.5" fill="#ffffff" text-anchor="middle" font-weight="normal" stroke="#ffffff" stroke-width="0.35">15</text>
<rect x="667.14" y="395.92" width="37.2" height="33.28" fill="#0d2a35"/>
<text x="685.7" y="415.7" font-size="11.5" fill="#ffffff" text-anchor="middle" font-weight="normal" stroke="#ffffff" stroke-width="0.35">16</text>
<rect x="218" y="505.2" width="22" height="12.6" rx="3" fill="#d8164f"/>
<text x="245.0" y="514.6" font-size="11.5" fill="#4a4a4a" text-anchor="start" font-weight="normal" >Rework_Count</text>
<rect x="328.5" y="505.2" width="22" height="12.6" rx="3" fill="#8fc1c1"/>
<text x="355.5" y="514.6" font-size="11.5" fill="#4a4a4a" text-anchor="start" font-weight="normal" >Scrap_Count</text>
<rect x="430" y="505.2" width="22" height="12.6" rx="3" fill="#0d2a35"/>
<text x="457.0" y="514.6" font-size="11.5" fill="#4a4a4a" text-anchor="start" font-weight="normal" >Defect Count</text>
<text x="1093.5" y="499.4" font-size="11.5" fill="#707070" text-anchor="end" font-weight="normal" >0</text>
<line x1="1100.8" y1="472.66" x2="1562.2" y2="472.66" stroke="#eceef3" stroke-width="1"/>
<text x="1093.5" y="475.5" font-size="11.5" fill="#707070" text-anchor="end" font-weight="normal" >30</text>
<line x1="1100.8" y1="448.72" x2="1562.2" y2="448.72" stroke="#eceef3" stroke-width="1"/>
<text x="1093.5" y="451.5" font-size="11.5" fill="#707070" text-anchor="end" font-weight="normal" >60</text>
<line x1="1100.8" y1="424.78" x2="1562.2" y2="424.78" stroke="#eceef3" stroke-width="1"/>
<text x="1093.5" y="427.6" font-size="11.5" fill="#707070" text-anchor="end" font-weight="normal" >90</text>
<line x1="1100.8" y1="400.84" x2="1562.2" y2="400.84" stroke="#eceef3" stroke-width="1"/>
<text x="1093.5" y="403.7" font-size="11.5" fill="#707070" text-anchor="end" font-weight="normal" >120</text>
<line x1="1100.8" y1="376.90" x2="1562.2" y2="376.90" stroke="#eceef3" stroke-width="1"/>
<text x="1093.5" y="379.7" font-size="11.5" fill="#707070" text-anchor="end" font-weight="normal" >150</text>
<line x1="1100.8" y1="496.6" x2="1562.2" y2="496.6" stroke="#8c8c8c" stroke-width="1"/>
<line x1="1100.80" y1="496.6" x2="1100.80" y2="501.6" stroke="#8c8c8c" stroke-width="1"/>
<line x1="1139.25" y1="496.6" x2="1139.25" y2="501.6" stroke="#8c8c8c" stroke-width="1"/>
<line x1="1177.70" y1="496.6" x2="1177.70" y2="501.6" stroke="#8c8c8c" stroke-width="1"/>
<line x1="1216.15" y1="496.6" x2="1216.15" y2="501.6" stroke="#8c8c8c" stroke-width="1"/>
<line x1="1254.60" y1="496.6" x2="1254.60" y2="501.6" stroke="#8c8c8c" stroke-width="1"/>
<line x1="1293.05" y1="496.6" x2="1293.05" y2="501.6" stroke="#8c8c8c" stroke-width="1"/>
<line x1="1331.50" y1="496.6" x2="1331.50" y2="501.6" stroke="#8c8c8c" stroke-width="1"/>
<line x1="1369.95" y1="496.6" x2="1369.95" y2="501.6" stroke="#8c8c8c" stroke-width="1"/>
<line x1="1408.40" y1="496.6" x2="1408.40" y2="501.6" stroke="#8c8c8c" stroke-width="1"/>
<line x1="1446.85" y1="496.6" x2="1446.85" y2="501.6" stroke="#8c8c8c" stroke-width="1"/>
<line x1="1485.30" y1="496.6" x2="1485.30" y2="501.6" stroke="#8c8c8c" stroke-width="1"/>
<line x1="1523.75" y1="496.6" x2="1523.75" y2="501.6" stroke="#8c8c8c" stroke-width="1"/>
<line x1="1562.20" y1="496.6" x2="1562.20" y2="501.6" stroke="#8c8c8c" stroke-width="1"/>
<text x="1120.0" y="512.1" font-size="11.5" fill="#707070" text-anchor="middle" font-weight="normal" >Jan</text>
<text x="1158.5" y="512.1" font-size="11.5" fill="#707070" text-anchor="middle" font-weight="normal" >Feb</text>
<text x="1196.9" y="512.1" font-size="11.5" fill="#707070" text-anchor="middle" font-weight="normal" >Mar</text>
<text x="1235.4" y="512.1" font-size="11.5" fill="#707070" text-anchor="middle" font-weight="normal" >Apr</text>
<text x="1273.8" y="512.1" font-size="11.5" fill="#707070" text-anchor="middle" font-weight="normal" >May</text>
<text x="1312.3" y="512.1" font-size="11.5" fill="#707070" text-anchor="middle" font-weight="normal" >Jun</text>
<text x="1350.7" y="512.1" font-size="11.5" fill="#707070" text-anchor="middle" font-weight="normal" >Jul</text>
<text x="1389.2" y="512.1" font-size="11.5" fill="#707070" text-anchor="middle" font-weight="normal" >Aug</text>
<text x="1427.6" y="512.1" font-size="11.5" fill="#707070" text-anchor="middle" font-weight="normal" >Sep</text>
<text x="1466.1" y="512.1" font-size="11.5" fill="#707070" text-anchor="middle" font-weight="normal" >Oct</text>
<text x="1504.5" y="512.1" font-size="11.5" fill="#707070" text-anchor="middle" font-weight="normal" >Nov</text>
<text x="1543.0" y="512.1" font-size="11.5" fill="#707070" text-anchor="middle" font-weight="normal" >Dec</text>
<path d="M1120.02,416.80 L1158.47,432.76 L1196.92,400.84 L1235.38,396.85 L1273.83,392.86 L1312.28,408.82 L1350.72,400.84 L1389.17,383.28 L1427.62,391.26 L1466.08,400.84 L1504.53,408.82 L1542.98,408.02" fill="none" stroke="#9cc4bf" stroke-width="2" stroke-linejoin="round"/>
<text x="1120.0" y="409.8" font-size="11.5" fill="#3a3a3a" text-anchor="middle" stroke="#fff" stroke-width="2" paint-order="stroke" stroke-linejoin="round">100</text>
<text x="1158.5" y="425.8" font-size="11.5" fill="#3a3a3a" text-anchor="middle" stroke="#fff" stroke-width="2" paint-order="stroke" stroke-linejoin="round">80</text>
<text x="1196.9" y="393.8" font-size="11.5" fill="#3a3a3a" text-anchor="middle" stroke="#fff" stroke-width="2" paint-order="stroke" stroke-linejoin="round">120</text>
<text x="1235.4" y="389.9" font-size="11.5" fill="#3a3a3a" text-anchor="middle" stroke="#fff" stroke-width="2" paint-order="stroke" stroke-linejoin="round">125</text>
<text x="1273.8" y="385.9" font-size="11.5" fill="#3a3a3a" text-anchor="middle" stroke="#fff" stroke-width="2" paint-order="stroke" stroke-linejoin="round">130</text>
<text x="1312.3" y="401.8" font-size="11.5" fill="#3a3a3a" text-anchor="middle" stroke="#fff" stroke-width="2" paint-order="stroke" stroke-linejoin="round">110</text>
<text x="1350.7" y="393.8" font-size="11.5" fill="#3a3a3a" text-anchor="middle" stroke="#fff" stroke-width="2" paint-order="stroke" stroke-linejoin="round">120</text>
<text x="1389.2" y="376.3" font-size="11.5" fill="#3a3a3a" text-anchor="middle" stroke="#fff" stroke-width="2" paint-order="stroke" stroke-linejoin="round">142</text>
<text x="1427.6" y="384.3" font-size="11.5" fill="#3a3a3a" text-anchor="middle" stroke="#fff" stroke-width="2" paint-order="stroke" stroke-linejoin="round">132</text>
<text x="1466.1" y="393.8" font-size="11.5" fill="#3a3a3a" text-anchor="middle" stroke="#fff" stroke-width="2" paint-order="stroke" stroke-linejoin="round">120</text>
<text x="1504.5" y="401.8" font-size="11.5" fill="#3a3a3a" text-anchor="middle" stroke="#fff" stroke-width="2" paint-order="stroke" stroke-linejoin="round">110</text>
<text x="1543.0" y="401.0" font-size="11.5" fill="#3a3a3a" text-anchor="middle" stroke="#fff" stroke-width="2" paint-order="stroke" stroke-linejoin="round">111</text>
<path d="M1120.02,496.60 C1127.71,496.44 1143.09,495.80 1158.47,495.80 C1173.86,495.80 1181.54,496.76 1196.92,496.60 C1212.31,496.44 1219.99,495.00 1235.38,495.00 C1250.76,495.00 1258.44,496.44 1273.83,496.60 C1289.21,496.76 1296.90,496.44 1312.28,495.80 C1327.65,495.16 1335.35,493.25 1350.72,493.41 C1366.10,493.57 1373.79,496.28 1389.17,496.60 C1404.56,496.92 1412.24,495.64 1427.62,495.00 C1443.01,494.37 1450.69,493.41 1466.08,493.41 C1481.46,493.41 1489.14,494.53 1504.53,495.00 C1519.91,495.48 1535.29,495.64 1542.98,495.80" fill="none" stroke="#b02a62" stroke-width="2.2" stroke-linecap="round"/>
<text x="1120.0" y="489.6" font-size="11.5" fill="#3a3a3a" text-anchor="middle" stroke="#fff" stroke-width="2" paint-order="stroke" stroke-linejoin="round">0</text>
<text x="1158.5" y="488.8" font-size="11.5" fill="#3a3a3a" text-anchor="middle" stroke="#fff" stroke-width="2" paint-order="stroke" stroke-linejoin="round">1</text>
<text x="1196.9" y="489.6" font-size="11.5" fill="#3a3a3a" text-anchor="middle" stroke="#fff" stroke-width="2" paint-order="stroke" stroke-linejoin="round">0</text>
<text x="1235.4" y="488.0" font-size="11.5" fill="#3a3a3a" text-anchor="middle" stroke="#fff" stroke-width="2" paint-order="stroke" stroke-linejoin="round">2</text>
<text x="1273.8" y="489.6" font-size="11.5" fill="#3a3a3a" text-anchor="middle" stroke="#fff" stroke-width="2" paint-order="stroke" stroke-linejoin="round">0</text>
<text x="1312.3" y="488.8" font-size="11.5" fill="#3a3a3a" text-anchor="middle" stroke="#fff" stroke-width="2" paint-order="stroke" stroke-linejoin="round">1</text>
<text x="1350.7" y="486.4" font-size="11.5" fill="#3a3a3a" text-anchor="middle" stroke="#fff" stroke-width="2" paint-order="stroke" stroke-linejoin="round">4</text>
<text x="1389.2" y="489.6" font-size="11.5" fill="#3a3a3a" text-anchor="middle" stroke="#fff" stroke-width="2" paint-order="stroke" stroke-linejoin="round">0</text>
<text x="1427.6" y="488.0" font-size="11.5" fill="#3a3a3a" text-anchor="middle" stroke="#fff" stroke-width="2" paint-order="stroke" stroke-linejoin="round">2</text>
<text x="1466.1" y="486.4" font-size="11.5" fill="#3a3a3a" text-anchor="middle" stroke="#fff" stroke-width="2" paint-order="stroke" stroke-linejoin="round">4</text>
<text x="1504.5" y="488.0" font-size="11.5" fill="#3a3a3a" text-anchor="middle" stroke="#fff" stroke-width="2" paint-order="stroke" stroke-linejoin="round">2</text>
<text x="1543.0" y="488.8" font-size="11.5" fill="#3a3a3a" text-anchor="middle" stroke="#fff" stroke-width="2" paint-order="stroke" stroke-linejoin="round">1</text>
<text x="269.0" y="751.2" font-size="11.5" fill="#707070" text-anchor="end" font-weight="normal" >0</text>
<line x1="276.1" y1="724.48" x2="792" y2="724.48" stroke="#eceef3" stroke-width="1"/>
<text x="269.0" y="727.3" font-size="11.5" fill="#707070" text-anchor="end" font-weight="normal" >30</text>
<line x1="276.1" y1="700.56" x2="792" y2="700.56" stroke="#eceef3" stroke-width="1"/>
<text x="269.0" y="703.4" font-size="11.5" fill="#707070" text-anchor="end" font-weight="normal" >60</text>
<line x1="276.1" y1="676.64" x2="792" y2="676.64" stroke="#eceef3" stroke-width="1"/>
<text x="269.0" y="679.5" font-size="11.5" fill="#707070" text-anchor="end" font-weight="normal" >90</text>
<line x1="276.1" y1="652.72" x2="792" y2="652.72" stroke="#eceef3" stroke-width="1"/>
<text x="269.0" y="655.5" font-size="11.5" fill="#707070" text-anchor="end" font-weight="normal" >120</text>
<line x1="276.1" y1="628.80" x2="792" y2="628.80" stroke="#eceef3" stroke-width="1"/>
<text x="269.0" y="631.6" font-size="11.5" fill="#707070" text-anchor="end" font-weight="normal" >150</text>
<line x1="276.1" y1="748.4" x2="792" y2="748.4" stroke="#8c8c8c" stroke-width="1"/>
<line x1="276.10" y1="748.4" x2="276.10" y2="753.4" stroke="#8c8c8c" stroke-width="1"/>
<line x1="319.09" y1="748.4" x2="319.09" y2="753.4" stroke="#8c8c8c" stroke-width="1"/>
<line x1="362.08" y1="748.4" x2="362.08" y2="753.4" stroke="#8c8c8c" stroke-width="1"/>
<line x1="405.08" y1="748.4" x2="405.08" y2="753.4" stroke="#8c8c8c" stroke-width="1"/>
<line x1="448.07" y1="748.4" x2="448.07" y2="753.4" stroke="#8c8c8c" stroke-width="1"/>
<line x1="491.06" y1="748.4" x2="491.06" y2="753.4" stroke="#8c8c8c" stroke-width="1"/>
<line x1="534.05" y1="748.4" x2="534.05" y2="753.4" stroke="#8c8c8c" stroke-width="1"/>
<line x1="577.04" y1="748.4" x2="577.04" y2="753.4" stroke="#8c8c8c" stroke-width="1"/>
<line x1="620.03" y1="748.4" x2="620.03" y2="753.4" stroke="#8c8c8c" stroke-width="1"/>
<line x1="663.03" y1="748.4" x2="663.03" y2="753.4" stroke="#8c8c8c" stroke-width="1"/>
<line x1="706.02" y1="748.4" x2="706.02" y2="753.4" stroke="#8c8c8c" stroke-width="1"/>
<line x1="749.01" y1="748.4" x2="749.01" y2="753.4" stroke="#8c8c8c" stroke-width="1"/>
<line x1="792.00" y1="748.4" x2="792.00" y2="753.4" stroke="#8c8c8c" stroke-width="1"/>
<text x="297.6" y="763.6" font-size="11.5" fill="#707070" text-anchor="middle" font-weight="normal" >Aug</text>
<text x="340.6" y="763.6" font-size="11.5" fill="#707070" text-anchor="middle" font-weight="normal" >Sep</text>
<text x="383.6" y="763.6" font-size="11.5" fill="#707070" text-anchor="middle" font-weight="normal" >May</text>
<text x="426.6" y="763.6" font-size="11.5" fill="#707070" text-anchor="middle" font-weight="normal" >Apr</text>
<text x="469.6" y="763.6" font-size="11.5" fill="#707070" text-anchor="middle" font-weight="normal" >Mar</text>
<text x="512.6" y="763.6" font-size="11.5" fill="#707070" text-anchor="middle" font-weight="normal" >Jul</text>
<text x="555.5" y="763.6" font-size="11.5" fill="#707070" text-anchor="middle" font-weight="normal" >Oct</text>
<text x="598.5" y="763.6" font-size="11.5" fill="#707070" text-anchor="middle" font-weight="normal" >Dec</text>
<text x="641.5" y="763.6" font-size="11.5" fill="#707070" text-anchor="middle" font-weight="normal" >Jun</text>
<text x="684.5" y="763.6" font-size="11.5" fill="#707070" text-anchor="middle" font-weight="normal" >Nov</text>
<text x="727.5" y="763.6" font-size="11.5" fill="#707070" text-anchor="middle" font-weight="normal" >Jan</text>
<text x="770.5" y="763.6" font-size="11.5" fill="#707070" text-anchor="middle" font-weight="normal" >Feb</text>
<rect x="282.80" y="635.18" width="29.6" height="113.22" fill="#d6184f"/>
<text x="297.6" y="694.9" font-size="11.5" fill="#ffffff" text-anchor="middle" font-weight="normal" stroke="#fff" stroke-width="0.35">142</text>
<rect x="325.79" y="643.15" width="29.6" height="105.25" fill="#d6184f"/>
<text x="340.6" y="698.9" font-size="11.5" fill="#ffffff" text-anchor="middle" font-weight="normal" stroke="#fff" stroke-width="0.35">132</text>
<rect x="368.78" y="644.75" width="29.6" height="103.65" fill="#d6184f"/>
<text x="383.6" y="699.7" font-size="11.5" fill="#ffffff" text-anchor="middle" font-weight="normal" stroke="#fff" stroke-width="0.35">130</text>
<rect x="411.77" y="648.73" width="29.6" height="99.67" fill="#d6184f"/>
<text x="426.6" y="701.7" font-size="11.5" fill="#ffffff" text-anchor="middle" font-weight="normal" stroke="#fff" stroke-width="0.35">125</text>
<rect x="454.76" y="652.72" width="29.6" height="95.68" fill="#d6184f"/>
<text x="469.6" y="703.7" font-size="11.5" fill="#ffffff" text-anchor="middle" font-weight="normal" stroke="#fff" stroke-width="0.35">120</text>
<rect x="497.75" y="652.72" width="29.6" height="95.68" fill="#d6184f"/>
<text x="512.6" y="703.7" font-size="11.5" fill="#ffffff" text-anchor="middle" font-weight="normal" stroke="#fff" stroke-width="0.35">120</text>
<rect x="540.75" y="652.72" width="29.6" height="95.68" fill="#d6184f"/>
<text x="555.5" y="703.7" font-size="11.5" fill="#ffffff" text-anchor="middle" font-weight="normal" stroke="#fff" stroke-width="0.35">120</text>
<rect x="583.74" y="659.90" width="29.6" height="88.50" fill="#d6184f"/>
<text x="598.5" y="707.3" font-size="11.5" fill="#ffffff" text-anchor="middle" font-weight="normal" stroke="#fff" stroke-width="0.35">111</text>
<rect x="626.73" y="660.69" width="29.6" height="87.71" fill="#d6184f"/>
<text x="641.5" y="707.7" font-size="11.5" fill="#ffffff" text-anchor="middle" font-weight="normal" stroke="#fff" stroke-width="0.35">110</text>
<rect x="669.72" y="660.69" width="29.6" height="87.71" fill="#d6184f"/>
<text x="684.5" y="707.7" font-size="11.5" fill="#ffffff" text-anchor="middle" font-weight="normal" stroke="#fff" stroke-width="0.35">110</text>
<rect x="712.71" y="668.67" width="29.6" height="79.73" fill="#d6184f"/>
<text x="727.5" y="711.7" font-size="11.5" fill="#ffffff" text-anchor="middle" font-weight="normal" stroke="#fff" stroke-width="0.35">100</text>
<rect x="755.70" y="684.61" width="29.6" height="63.79" fill="#d6184f"/>
<text x="770.5" y="719.6" font-size="11.5" fill="#ffffff" text-anchor="middle" font-weight="normal" stroke="#fff" stroke-width="0.35">80</text>
<g opacity="0.52"><circle cx="872.7" cy="730.9" r="13.2" fill="none" stroke="#b9b9b9" stroke-width="8.8"/><line x1="720" y1="738.6" x2="866" y2="738.6" stroke="#b9b9b9" stroke-width="8.6"/><line x1="842.8" y1="720.0" x2="842.8" y2="739" stroke="#b9b9b9" stroke-width="9" stroke-linecap="round"/><line x1="829.2" y1="722.2" x2="829.2" y2="739" stroke="#b9b9b9" stroke-width="9" stroke-linecap="round"/><line x1="814.7" y1="725.3" x2="814.7" y2="739" stroke="#b9b9b9" stroke-width="9" stroke-linecap="round"/><line x1="797.1" y1="725.3" x2="797.1" y2="739" stroke="#b9b9b9" stroke-width="9" stroke-linecap="round"/><line x1="732.6" y1="698" x2="732.6" y2="739" stroke="#b9b9b9" stroke-width="9.2" stroke-linecap="round"/><path d="M717.79,717.80 A13.2,13.2 0 1 0 726.00,742.33" fill="none" stroke="#b9b9b9" stroke-width="8.8" stroke-linecap="round"/><circle cx="763.8" cy="723" r="12" fill="none" stroke="#b9b9b9" stroke-width="9.2"/><circle cx="756.8" cy="698.6" r="5.5" fill="#b9b9b9"/><circle cx="770.4" cy="698.6" r="5.5" fill="#b9b9b9"/><circle cx="790.8" cy="710.3" r="5.5" fill="#b9b9b9"/><circle cx="804.2" cy="710.3" r="5.5" fill="#b9b9b9"/><text x="698.5" y="775" font-size="31" font-weight="bold" fill="#b9b9b9" textLength="192" lengthAdjust="spacingAndGlyphs">mostaql.com</text></g>
</svg>
</body></html>
